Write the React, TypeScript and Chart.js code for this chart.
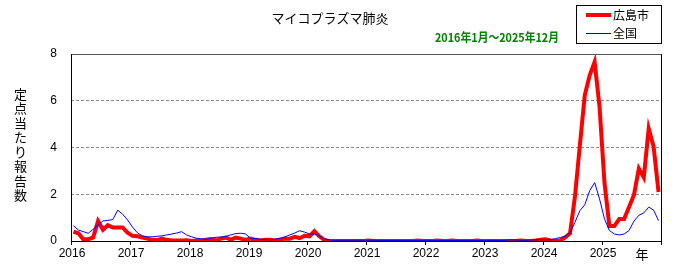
import React, { useEffect, useRef } from "react";
import { Chart, registerables } from "chart.js";
Chart.register(...registerables);

const chartTitle = "マイコプラズマ肺炎";
const periodText = "2016年1月～2025年12月";
const yAxisTitle = "定点当たり報告数";
const xUnitLabel = "年";
const seriesNames = ["広島市", "全国"];
const yearLabels = ["2016", "2017", "2018", "2019", "2020", "2021", "2022", "2023", "2024", "2025"];
const yTickValues = [0, 2, 4, 6, 8];

// monthly values, Jan 2016 .. Dec 2025
const hiroshima = [
  0.40, 0.33, 0.07, 0.07, 0.15, 0.85, 0.48, 0.68, 0.58, 0.58, 0.58, 0.35,
  0.22, 0.20, 0.15, 0.10, 0.05, 0.04, 0.10, 0.05, 0.02, 0.02, 0.02, 0.03,
  0.00, 0.02, 0.02, 0.05, 0.08, 0.02, 0.10, 0.15, 0.05, 0.15, 0.10, 0.05,
  0.10, 0.05, 0.02, 0.05, 0.05, 0.02, 0.05, 0.10, 0.10, 0.18, 0.12, 0.22,
  0.20, 0.42, 0.20, 0.05, 0.00, 0.00, 0.00, 0.00, 0.00, 0.00, 0.00, 0.00,
  0.02, 0.00, 0.00, 0.00, 0.00, 0.00, 0.00, 0.00, 0.00, 0.00, 0.02, 0.00,
  0.00, 0.00, 0.02, 0.00, 0.00, 0.02, 0.00, 0.00, 0.00, 0.00, 0.02, 0.00,
  0.00, 0.00, 0.00, 0.00, 0.00, 0.00, 0.00, 0.02, 0.00, 0.00, 0.02, 0.05,
  0.07, 0.02, 0.00, 0.02, 0.15, 0.33, 1.90, 4.10, 6.24, 7.09, 7.66, 5.74,
  2.50, 0.64, 0.64, 0.94, 0.94, 1.45, 1.97, 3.10, 2.72, 4.81, 4.03, 2.10,
];

const national = [
  0.65, 0.47, 0.40, 0.33, 0.50, 0.68, 0.86, 0.88, 0.92, 1.32, 1.15, 0.90,
  0.60, 0.35, 0.22, 0.18, 0.18, 0.20, 0.22, 0.26, 0.30, 0.34, 0.40, 0.26,
  0.18, 0.12, 0.09, 0.08, 0.12, 0.16, 0.17, 0.20, 0.26, 0.32, 0.33, 0.30,
  0.12, 0.10, 0.08, 0.06, 0.05, 0.08, 0.12, 0.18, 0.26, 0.34, 0.44, 0.38,
  0.30, 0.30, 0.22, 0.10, 0.04, 0.03, 0.03, 0.03, 0.03, 0.03, 0.03, 0.03,
  0.03, 0.03, 0.02, 0.02, 0.02, 0.02, 0.02, 0.02, 0.02, 0.02, 0.02, 0.02,
  0.02, 0.02, 0.02, 0.02, 0.02, 0.02, 0.02, 0.02, 0.02, 0.02, 0.02, 0.02,
  0.02, 0.02, 0.02, 0.02, 0.03, 0.05, 0.04, 0.03, 0.03, 0.04, 0.05, 0.06,
  0.05, 0.06, 0.10, 0.15, 0.20, 0.35, 0.80, 1.30, 1.55, 2.15, 2.50, 1.80,
  0.95, 0.45, 0.30, 0.26, 0.30, 0.45, 0.85, 1.10, 1.20, 1.45, 1.32, 0.87,
];

const SANS = '"Liberation Sans", Arial, sans-serif';
const JP = '"Noto Sans CJK JP", "Liberation Sans", sans-serif';

export default function App() {
  const ref = useRef<HTMLCanvasElement>(null);

  useEffect(() => {
    document.body.style.margin = "0";
    const canvas = ref.current!;

    const decor = {
      id: "decor",
      afterDatasetsDraw(chart: any) {
        const ctx = chart.ctx as CanvasRenderingContext2D;
        const a = chart.chartArea;
        ctx.save();
        // frame
        ctx.lineWidth = 1;
        ctx.strokeStyle = "#555";
        ctx.beginPath();
        ctx.moveTo(a.left, Math.round(a.top) + 0.5);
        ctx.lineTo(a.right, Math.round(a.top) + 0.5);
        ctx.stroke();
        ctx.strokeStyle = "#000";
        ctx.beginPath();
        ctx.moveTo(Math.round(a.right) + 0.5, a.top);
        ctx.lineTo(Math.round(a.right) + 0.5, a.bottom);
        ctx.moveTo(Math.round(a.left) + 0.5, a.top);
        ctx.lineTo(Math.round(a.left) + 0.5, a.bottom);
        ctx.stroke();
        ctx.restore();
      },
      afterDraw(chart: any) {
        const ctx = chart.ctx as CanvasRenderingContext2D;
        const xs = chart.scales.x;
        ctx.save();
        ctx.fillStyle = "#000";
        ctx.textBaseline = "middle";
        // title
        ctx.font = `13px ${JP}`;
        ctx.textAlign = "center";
        ctx.fillText(chartTitle, 330, 18);
        // period
        ctx.font = `bold 12px ${JP}`;
        ctx.fillStyle = "#008000";
        ctx.textAlign = "right";
        ctx.fillText(periodText, 559, 37, 124);
        // legend box
        ctx.strokeStyle = "#000";
        ctx.lineWidth = 1;
        ctx.strokeRect(576.5, 5.5, 85, 38);
        ctx.strokeStyle = "#ff0000";
        ctx.lineWidth = 4;
        ctx.beginPath();
        ctx.moveTo(586, 15);
        ctx.lineTo(611, 15);
        ctx.stroke();
        ctx.strokeStyle = "#0000ff";
        ctx.lineWidth = 1;
        ctx.beginPath();
        ctx.moveTo(586, 33.5);
        ctx.lineTo(611, 33.5);
        ctx.stroke();
        ctx.fillStyle = "#000";
        ctx.textAlign = "left";
        ctx.font = `12px ${JP}`;
        ctx.fillText(seriesNames[0], 613, 15);
        ctx.fillText(seriesNames[1], 613, 33);
        // y-axis title (vertical)
        ctx.textAlign = "center";
        ctx.font = `13px ${JP}`;
        const chars = Array.from(yAxisTitle);
        chars.forEach((c, i) => ctx.fillText(c, 20.5, 94 + i * 14.5));
        // x unit
        ctx.font = `13px ${JP}`;
        ctx.fillText(xUnitLabel, xs.getPixelForValue(120) - 19, 254);
        ctx.restore();
      },
    };

    const xTickPositions = [...yearLabels.map((_, i) => i * 12), yearLabels.length * 12];

    const chart = new Chart(canvas, {
      type: "line",
      data: {
        datasets: [
          {
            label: seriesNames[0],
            data: hiroshima.map((v, i) => ({ x: i + 0.5, y: v })),
            borderColor: "#ff0000",
            borderWidth: 4,
            pointRadius: 0,
            tension: 0,
            order: 2,
          },
          {
            label: seriesNames[1],
            data: national.map((v, i) => ({ x: i + 0.5, y: v })),
            borderColor: "#0000ff",
            borderWidth: 1,
            pointRadius: 0,
            tension: 0,
            order: 1,
          },
        ],
      },
      options: {
        animation: false,
        responsive: false,
        events: [],
        layout: { padding: { top: 54, right: 39, left: 0, bottom: 0 } },
        plugins: {
          legend: { display: false },
          tooltip: { enabled: false },
          title: { display: false },
        },
        scales: {
          x: {
            type: "linear",
            min: 0,
            max: yearLabels.length * 12,
            afterBuildTicks: (s: any) => {
              s.ticks = xTickPositions.map((v) => ({ value: v }));
            },
            afterFit: (s: any) => {
              s.height = 37;
            },
            ticks: {
              autoSkip: false,
              maxRotation: 0,
              padding: 1,
              labelOffset: 1,
              color: "#000",
              font: { size: 12, family: SANS },
              callback: (v: any) => yearLabels[Math.round(Number(v) / 12)] ?? "",
            },
            grid: { drawOnChartArea: false, drawTicks: true, tickLength: 4, color: "#000" },
            border: { color: "#000", width: 1 },
          },
          y: {
            min: 0,
            max: 8,
            afterBuildTicks: (s: any) => {
              s.ticks = yTickValues.map((v) => ({ value: v }));
            },
            afterFit: (s: any) => {
              s.width = 71;
            },
            ticks: {
              padding: 14,
              color: "#000",
              font: { size: 12, family: SANS },
            },
            grid: {
              drawTicks: false,
              color: (c: any) =>
                c.tick && (c.tick.value === 0 || c.tick.value === 8) ? "rgba(0,0,0,0)" : "#8a8a8a",
            },
            border: { display: false, dash: [3, 2] },
          },
        },
      },
      plugins: [decor],
    } as any);

    return () => chart.destroy();
  }, []);

  return <canvas ref={ref} width={700} height={278} style={{ display: "block" }} />;
}
